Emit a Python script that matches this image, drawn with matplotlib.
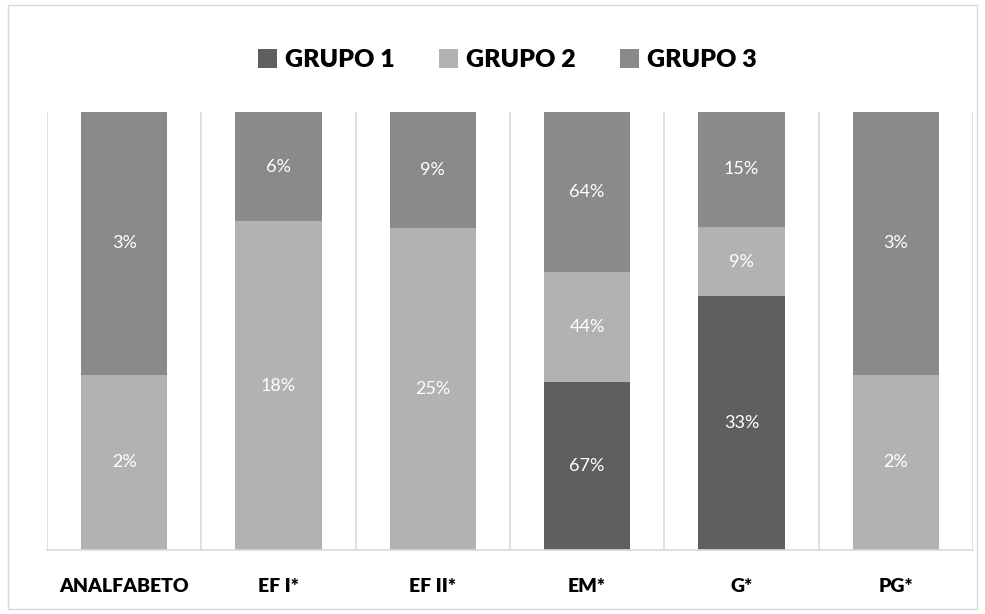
import numpy as np
import matplotlib.pyplot as plt
from matplotlib.patches import Rectangle

categorias = ['ANALFABETO', 'EF I*', 'EF II*', 'EM*', 'G*', 'PG*']
grupo1 = [0, 0, 0, 67, 33, 0]
grupo2 = [2, 18, 25, 44, 9, 2]
grupo3 = [3, 6, 9, 64, 15, 3]
grupos = ['GRUPO 1', 'GRUPO 2', 'GRUPO 3']
cores = ['#5f5f5f', '#b2b2b2', '#8a8a8a']

plt.rcParams['font.family'] = ['Lato', 'DejaVu Sans']

valores = np.array([grupo1, grupo2, grupo3], dtype=float)
totais = valores.sum(axis=0)
frac = valores / totais

fig = plt.figure(figsize=(9.85, 6.14), dpi=100)
ax = fig.add_axes([0.0477, 0.104, 0.94, 0.714])

x = np.arange(len(categorias))
base = np.zeros(len(categorias))
for i, (nome, cor) in enumerate(zip(grupos, cores)):
    ax.bar(x, frac[i], 0.56, bottom=base, color=cor, label=nome, zorder=2)
    for j in range(len(categorias)):
        if valores[i, j] > 0:
            ax.text(x[j], base[j] + frac[i, j] / 2, f'{valores[i, j]:.0f}%',
                    ha='center', va='center', color='white', fontsize=13, zorder=3)
    base += frac[i]

# linhas verticais separando as categorias
for b in np.arange(len(categorias) + 1) - 0.5:
    ax.axvline(b, color='#d9d9d9', lw=1.2, zorder=1)

ax.set_xlim(-0.5, len(categorias) - 0.5)
ax.set_ylim(0, 1)
ax.set_yticks([])
ax.set_xticks(x)
ax.set_xticklabels(categorias, fontweight='heavy', fontsize=14)
ax.tick_params(axis='x', length=0, pad=20)
for s in ['top', 'left', 'right']:
    ax.spines[s].set_visible(False)
ax.spines['bottom'].set_color('#d9d9d9')
ax.spines['bottom'].set_linewidth(1.2)

leg = fig.legend(loc='center', bbox_to_anchor=(0.515, 0.902), ncol=3, frameon=False,
                 prop={'weight': 'heavy', 'size': 18}, handlelength=0.75, handleheight=0.75,
                 handletextpad=0.3, columnspacing=1.8)

# borda externa do grafico
fig.patches.append(Rectangle((0.008, 0.008), 0.984, 0.984, transform=fig.transFigure,
                             fill=False, edgecolor='#d9d9d9', lw=1))

fig.savefig('out.png', dpi=100)
